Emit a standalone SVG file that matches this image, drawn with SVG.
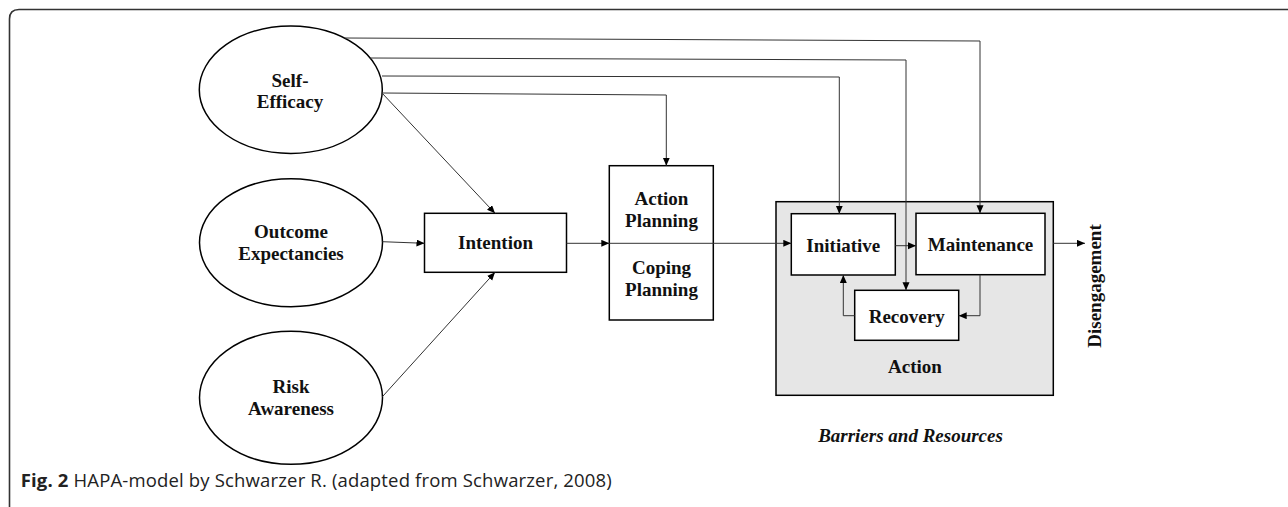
<svg xmlns="http://www.w3.org/2000/svg" width="1288" height="507" viewBox="0 0 1288 507">
<defs>
<marker id="ah" markerUnits="userSpaceOnUse" markerWidth="9" markerHeight="8" refX="8" refY="3.5" orient="auto">
<path d="M0,0 L8,3.5 L0,7 z" fill="#000"/>
</marker>
<style>
.node{fill:#fff;stroke:#000;stroke-width:1.5}
.lbl{font-family:"Liberation Serif","Times New Roman",serif;font-weight:bold;font-size:19px;fill:#111;text-anchor:middle}
.con{fill:none;stroke:#333;stroke-width:1}
.arr{marker-end:url(#ah)}
</style>
</defs>
<rect width="1288" height="507" fill="#fff"/>
<path d="M9.5,507 L9.5,19 Q9.5,9.5 19,9.5 L1288,9.5" fill="none" stroke="#333" stroke-width="1.6"/>
<g id="action-stage">
<rect x="776" y="201.7" width="277.3" height="193.6" fill="#e6e6e6" stroke="#000" stroke-width="1.5"/>
<text class="lbl" x="915" y="373.3">Action</text>
</g>
<g id="self-efficacy">
<ellipse class="node" cx="290.8" cy="89.7" rx="91.5" ry="63.7"/>
<text class="lbl" x="290" y="86.7">Self-</text>
<text class="lbl" x="290" y="108.3">Efficacy</text>
</g>
<g id="outcome-expectancies">
<ellipse class="node" cx="291" cy="242.7" rx="91.5" ry="64"/>
<text class="lbl" x="291" y="238.3">Outcome</text>
<text class="lbl" x="291" y="260">Expectancies</text>
</g>
<g id="risk-awareness">
<ellipse class="node" cx="291" cy="397.8" rx="91.5" ry="66.5"/>
<text class="lbl" x="291" y="393.3">Risk</text>
<text class="lbl" x="291" y="415">Awareness</text>
</g>
<g id="intention">
<rect class="node" x="424.5" y="213.3" width="142" height="59"/>
<text class="lbl" x="495.5" y="249.3">Intention</text>
</g>
<g id="planning">
<rect class="node" x="609.3" y="165.7" width="104" height="154.3"/>
<text class="lbl" x="661.5" y="205">Action</text>
<text class="lbl" x="661.5" y="227.3">Planning</text>
<text class="lbl" x="661.5" y="274">Coping</text>
<text class="lbl" x="661.5" y="296">Planning</text>
</g>
<g id="initiative">
<rect class="node" x="791.3" y="213.7" width="104" height="61.3"/>
<text class="lbl" x="843.3" y="251.7">Initiative</text>
</g>
<g id="maintenance">
<rect class="node" x="916" y="213.3" width="129" height="61.4"/>
<text class="lbl" x="980.5" y="251">Maintenance</text>
</g>
<g id="recovery">
<rect class="node" x="854.7" y="290.3" width="104" height="50"/>
<text class="lbl" x="906.7" y="323.3">Recovery</text>
</g>
<g id="disengagement">
<text class="lbl" transform="translate(1100.5,286) rotate(-90)" x="0" y="0">Disengagement</text>
</g>
<g id="barriers">
<text class="lbl" x="910.5" y="441.7" font-style="italic">Barriers and Resources</text>
</g>
<g id="connectors">
<polyline class="con arr" points="345,38 980,41 980,213.3"/>
<polyline class="con arr" points="370,58 906,60 906,290.3"/>
<polyline class="con arr" points="382,76 839.3,77 839.3,213.7"/>
<polyline class="con arr" points="382,93 666.3,95 666.3,165.7"/>
<line class="con arr" x1="382" y1="93" x2="495" y2="213.3"/>
<line class="con arr" x1="382.4" y1="241.7" x2="424.5" y2="243.3"/>
<line class="con arr" x1="382.4" y1="396.7" x2="495" y2="272.3"/>
<line class="con arr" x1="566.5" y1="243.3" x2="609.3" y2="243.3"/>
<line class="con arr" x1="609.3" y1="243.3" x2="791.3" y2="243.3"/>
<line class="con arr" x1="895.3" y1="245.7" x2="916" y2="245.7"/>
<polyline class="con arr" points="980,274.7 980,315.7 958.7,315.7"/>
<polyline class="con arr" points="854.7,315.7 843.3,315.7 843.3,275"/>
<line class="con arr" x1="1053.3" y1="243.3" x2="1085" y2="243.3"/>
</g>
<g id="caption">
<text x="20.7" y="487" font-family="'Open Sans','Noto Sans',sans-serif" font-size="18.5" fill="#222" textLength="591" lengthAdjust="spacing"><tspan font-weight="bold">Fig. 2</tspan> HAPA-model by Schwarzer R. (adapted from Schwarzer, 2008)</text>
</g>
</svg>
